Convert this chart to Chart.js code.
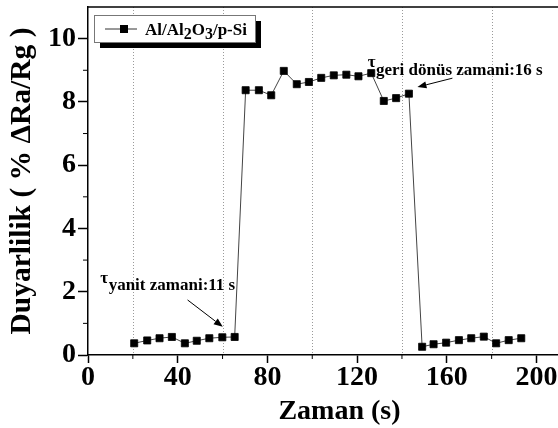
<!DOCTYPE html>
<html><head><meta charset="utf-8">
<script src="https://cdn.jsdelivr.net/npm/chart.js@4/dist/chart.umd.min.js"></script>
<style>
html,body{margin:0;padding:0;overflow:hidden;background:#fff;width:558px;height:428px}
canvas{display:block}
</style></head><body>
<canvas id="c" width="591" height="428"></canvas>
<script>
// ---- data ----
const times = [20.6, 26.4, 31.9, 37.4, 43.2, 48.5, 54.1, 59.9, 65.4,
  70.3, 76.2, 81.7, 87.3, 93.1, 98.5, 104.0, 109.6, 115.2, 120.6, 126.3, 131.9, 137.4, 143.1,
  149.0, 154.1, 159.7, 165.4, 170.9, 176.5, 182.0, 187.6, 193.2];
const duyarlilik = [0.37, 0.46, 0.53, 0.57, 0.37, 0.45, 0.53, 0.56, 0.57,
  8.37, 8.37, 8.21, 8.98, 8.56, 8.63, 8.76, 8.84, 8.86, 8.81, 8.91, 8.03, 8.12, 8.26,
  0.26, 0.34, 0.39, 0.47, 0.53, 0.58, 0.37, 0.47, 0.53];
const xTicks = [0, 40, 80, 120, 160, 200];
const xMinorTicks = [20, 60, 100, 140, 180];
const yTicks = [0, 2, 4, 6, 8, 10];
const yMinorTicks = [1, 3, 5, 7, 9];
const seriesLabel = 'Al/Al2O3/p-Si';
const legendParts = [['Al/Al', 0], ['2', 1], ['O', 0], ['3', 1], ['/p-Si', 0]];
const xTitle = 'Zaman (s)';
const yTitle = 'Duyarlilik ( % ΔRa/Rg )';
const notes = [
  {sym: 'τ', sub: 'yanit zamani:11 s', x: 5.5, y: 2.28, ax0: 44.4, ay0: 1.74, ax1: 60.1, ay1: 0.89},
  {sym: 'τ', sub: 'geri dönüs zamani:16 s', x: 124.7, y: 9.1, ax0: 162.5, ay0: 8.75, ax1: 146.9, ay1: 8.47}
];

const FONT = '"Liberation Serif", "Times New Roman", serif';

function arrow(ctx, x0, y0, x1, y1) {
  const ang = Math.atan2(y1 - y0, x1 - x0), L = 9, W = 3.5;
  ctx.beginPath(); ctx.moveTo(x0, y0);
  ctx.lineTo(x1 - L * Math.cos(ang), y1 - L * Math.sin(ang)); ctx.stroke();
  ctx.beginPath();
  ctx.moveTo(x1, y1);
  ctx.lineTo(x1 - L * Math.cos(ang) + W * Math.sin(ang), y1 - L * Math.sin(ang) - W * Math.cos(ang));
  ctx.lineTo(x1 - L * Math.cos(ang) - W * Math.sin(ang), y1 - L * Math.sin(ang) + W * Math.cos(ang));
  ctx.closePath(); ctx.fill();
}

const overlay = {
  id: 'overlay',
  beforeDatasetsDraw(chart) {
    const {ctx, chartArea: a, scales: {x}} = chart;
    ctx.save();
    ctx.strokeStyle = '#9a9a9a'; ctx.lineWidth = 1; ctx.setLineDash([1, 2]);
    xMinorTicks.forEach(v => {
      const px = Math.round(x.getPixelForValue(v)) + 0.5;
      ctx.beginPath(); ctx.moveTo(px, a.top); ctx.lineTo(px, a.bottom); ctx.stroke();
    });
    ctx.restore();
  },
  afterDraw(chart) {
    const {ctx, chartArea: a, scales: {x, y}} = chart;
    ctx.save();
    ctx.strokeStyle = '#000'; ctx.fillStyle = '#000';
    ctx.lineWidth = 1.5;
    ctx.beginPath(); ctx.moveTo(a.left, a.top); ctx.lineTo(a.right, a.top); ctx.stroke();
    ctx.lineWidth = 1;
    xMinorTicks.forEach(v => {
      const px = x.getPixelForValue(v);
      ctx.beginPath(); ctx.moveTo(px, a.bottom); ctx.lineTo(px, a.bottom + 4); ctx.stroke();
    });
    yMinorTicks.forEach(v => {
      const py = y.getPixelForValue(v);
      ctx.beginPath(); ctx.moveTo(a.left, py); ctx.lineTo(a.left - 5, py); ctx.stroke();
    });
    // legend
    const lx = a.left + 6, ly = a.top + 8, lw = 161, lh = 27;
    ctx.fillStyle = '#000'; ctx.fillRect(lx + 6, ly + 6, lw, lh);
    ctx.fillStyle = '#fff'; ctx.fillRect(lx, ly, lw, lh);
    ctx.strokeStyle = '#777'; ctx.lineWidth = 1; ctx.strokeRect(lx + 0.5, ly + 0.5, lw, lh);
    const cy = ly + 14;
    ctx.strokeStyle = '#333'; ctx.beginPath(); ctx.moveTo(lx + 11, cy); ctx.lineTo(lx + 43, cy); ctx.stroke();
    ctx.fillStyle = '#000'; ctx.fillRect(lx + 26, cy - 4, 8, 8);
    let tx = lx + 51;
    ctx.textBaseline = 'alphabetic'; ctx.textAlign = 'left';
    legendParts.forEach(([t, sub]) => {
      ctx.font = 'bold ' + (sub ? 16 : 17) + 'px ' + FONT;
      ctx.fillText(t, tx, ly + 19.5 + (sub ? 4.5 : 0));
      tx += ctx.measureText(t).width;
    });
    // annotations
    ctx.lineWidth = 1; ctx.strokeStyle = '#000';
    notes.forEach(n => {
      const px = x.getPixelForValue(n.x), py = y.getPixelForValue(n.y);
      ctx.font = 'bold 17px ' + FONT;
      ctx.fillText(n.sym, px, py);
      const w = ctx.measureText(n.sym).width;
      ctx.fillText(n.sub, px + w + 0.5, py + 7.5);
      arrow(ctx, x.getPixelForValue(n.ax0), y.getPixelForValue(n.ay0),
                 x.getPixelForValue(n.ax1), y.getPixelForValue(n.ay1));
    });
    ctx.restore();
  }
};

const tickFont = {family: FONT, weight: 'bold', size: 28, lineHeight: 1};
const yTitleFont = {family: FONT, weight: 'bold', size: 29.5, lineHeight: 1};

new Chart(document.getElementById('c'), {
  type: 'line',
  data: {
    datasets: [{
      label: seriesLabel,
      data: times.map((t, i) => ({x: t, y: duyarlilik[i]})),
      borderColor: '#444',
      borderWidth: 1,
      pointStyle: 'rect',
      pointRadius: 5,
      pointBackgroundColor: '#000',
      pointBorderColor: '#000',
      pointBorderWidth: 0.8,
      tension: 0,
      fill: false
    }]
  },
  options: {
    responsive: false,
    animation: false,
    devicePixelRatio: 1,
    layout: {autoPadding: false, padding: {top: 7, left: 0, right: 0, bottom: 0}},
    plugins: {legend: {display: false}, tooltip: {enabled: false}},
    scales: {
      x: {
        type: 'linear', min: 0, max: 224.3,
        afterBuildTicks: s => { s.ticks = xTicks.map(v => ({value: v})); },
        afterFit: s => { s.height = 73; s.paddingLeft = 0; s.paddingRight = 0; },
        grid: {display: true, drawOnChartArea: false, drawTicks: true, tickLength: 8, tickColor: '#000', tickWidth: 1.5, color: '#000'},
        border: {display: true, color: '#000', width: 1.5},
        ticks: {color: '#000', font: tickFont, padding: 1, maxRotation: 0, autoSkip: false},
        title: {display: true, text: xTitle, color: '#000', font: tickFont, padding: {top: 0, bottom: 2}}
      },
      y: {
        type: 'linear', min: 0, max: 11,
        afterBuildTicks: s => { s.ticks = yTicks.map(v => ({value: v})); },
        afterFit: s => { s.width = 88; s.paddingTop = 0; s.paddingBottom = 0; },
        grid: {display: true, drawOnChartArea: false, drawTicks: true, tickLength: 10, tickColor: '#000', tickWidth: 1.5, color: '#000'},
        border: {display: true, color: '#000', width: 1.5},
        ticks: {color: '#000', font: tickFont, padding: 2, autoSkip: false},
        title: {display: true, text: yTitle, color: '#000', font: yTitleFont, padding: {top: 8, bottom: 0}}
      }
    }
  },
  plugins: [overlay]
});
</script>
</body></html>
